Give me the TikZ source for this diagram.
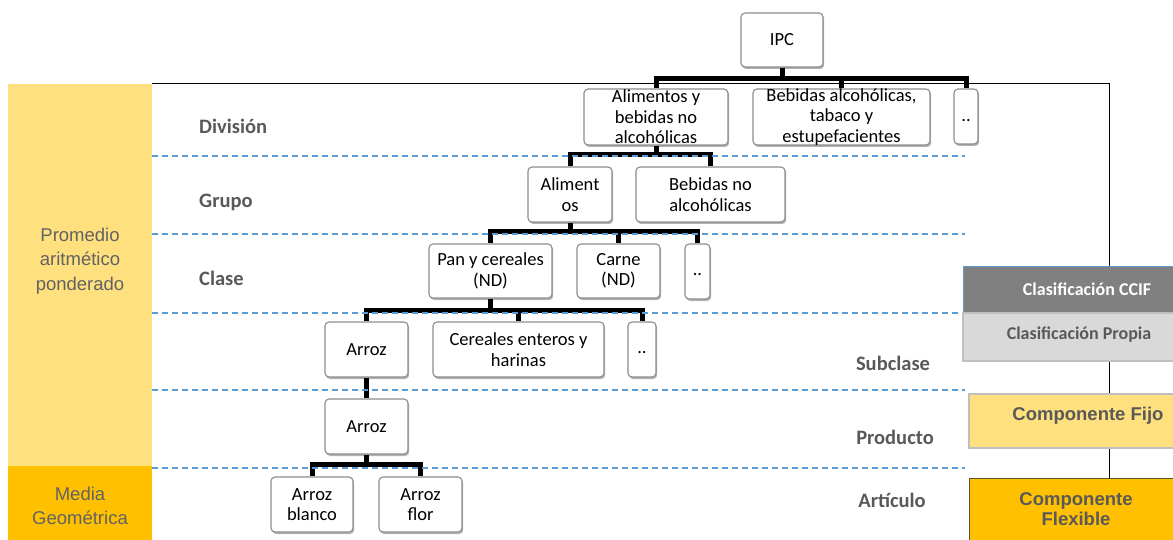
\documentclass[tikz,border=0pt]{standalone}
\usepackage{fontspec}
\setmainfont{Carlito}
\newfontfamily\arialf{Liberation Sans}
\usetikzlibrary{shadows}
\definecolor{ylight}{HTML}{FFE07F}
\definecolor{ydark}{HTML}{FFC000}
\definecolor{dashblue}{HTML}{5B9BD5}
\definecolor{boxgray}{HTML}{8C8C8C}
\definecolor{txtgray}{HTML}{595959}
\definecolor{colgray}{HTML}{626262}
\newcommand\bxfont{\fontsize{18.5}{20.5}\selectfont}
\newcommand\lvfont{\fontsize{20.5}{24}\selectfont\bfseries}
\tikzset{
  box/.style={draw=boxgray, line width=1.1pt, rounded corners=4pt, fill=white,
    inner sep=0pt, drop shadow={shadow xshift=1.2pt, shadow yshift=-2pt, fill=black, opacity=0.3}},
  txt/.style={font=\bxfont, align=center, inner sep=0pt},
  conn/.style={line width=5pt, line join=miter, draw=black},
  dline/.style={draw=dashblue, line width=1.2pt, dash pattern=on 6pt off 4pt},
  lvl/.style={font=\lvfont, text=txtgray, inner sep=0pt},
  coltxt/.style={font=\arialf\fontsize{18.5}{24.5}\selectfont, text=colgray, align=center, inner sep=0pt},
  rbtxt/.style={font=\fontsize{18}{22}\selectfont\bfseries, inner sep=0pt, align=center},
  rbtxtA/.style={font=\arialf\fontsize{18.5}{20.5}\selectfont\bfseries, text=txtgray, inner sep=0pt, align=center}
}
\begin{document}
\begin{tikzpicture}[x=1pt,y=-1pt]
\clip (0,0) rectangle (1173,540);
\fill[white] (0,0) rectangle (1173,540);
% left column
\fill[ylight] (8,84) rectangle (152,466);
\fill[ydark] (8,466) rectangle (152,545);
\node[coltxt] (prom) at (80,261) {Promedio\\aritmético\\ponderado};
\node[coltxt] (media) at (80,506) {Media\\Geométrica};
% frame
\draw[line width=1pt] (152,84) -- (1109,84) -- (1109,545);
% level labels
\node[lvl, anchor=west] (ldiv) at (199,126) {División};
\node[lvl, anchor=west] (lgru) at (199,202) {Grupo};
\node[lvl, anchor=west] (lcla) at (199,278) {Clase};
\node[lvl] (lsub) at (893,363) {Subclase};
\node[lvl] (lpro) at (895,437) {Producto};
\node[lvl] (lart) at (892,500) {Artículo};
% bar coordinates
\coordinate (c1) at (0,79);
\coordinate (c2) at (0,155);
\coordinate (c3) at (0,232);
\coordinate (c4) at (0,310);
\coordinate (c6) at (0,464);
% boxes
\node[box, minimum width=82pt, minimum height=54pt] (ipc) at (782,40) {};
\node[box, minimum width=144pt, minimum height=56pt] (ali) at (656,117) {};
\node[box, minimum width=177pt, minimum height=56pt] (beb) at (841.5,117) {};
\node[box, minimum width=24pt, minimum height=55pt] (dd1) at (966,116.5) {};
\node[box, minimum width=84pt, minimum height=55pt] (alm) at (570,194.5) {};
\node[box, minimum width=149pt, minimum height=55pt] (bna) at (710.5,194.5) {};
\node[box, minimum width=123pt, minimum height=54pt] (pan) at (490.5,271) {};
\node[box, minimum width=83pt, minimum height=54pt] (car) at (618.5,271) {};
\node[box, minimum width=25pt, minimum height=55pt] (dd2) at (697.5,271.5) {};
\node[box, minimum width=83pt, minimum height=55pt] (arz1) at (366.5,349.5) {};
\node[box, minimum width=171pt, minimum height=55pt] (cer) at (518.5,349.5) {};
\node[box, minimum width=28pt, minimum height=55pt] (dd3) at (642,349.5) {};
\node[box, minimum width=83pt, minimum height=55pt] (arz2) at (366.5,426.5) {};
\node[box, minimum width=82pt, minimum height=55pt] (ab) at (312,504.5) {};
\node[box, minimum width=83pt, minimum height=55pt] (af) at (420.5,504.5) {};
% connectors
\draw[conn] (ipc.south) -- (ipc.south |- c1);
\draw[conn] (ali.north) -- (ali.north |- c1) -| (dd1.north);
\draw[conn] (beb.north) -- (beb.north |- c1);
\draw[conn] (ali.south) -- (ali.south |- c2);
\draw[conn] (alm.north) -- (alm.north |- c2) -| (bna.north);
\draw[conn] (alm.south) -- (alm.south |- c3);
\draw[conn] (pan.north) -- (pan.north |- c3) -| (dd2.north);
\draw[conn] (car.north) -- (car.north |- c3);
\draw[conn] (pan.south) -- (pan.south |- c4);
\draw[conn] (arz1.north) -- (arz1.north |- c4) -| (dd3.north);
\draw[conn] (cer.north) -- (cer.north |- c4);
\draw[conn] (arz1.south) -- (arz2.north);
\draw[conn] (arz2.south) -- (arz2.south |- c6);
\draw[conn] (ab.north) -- (ab.north |- c6) -| (af.north);
% dashed separators
\foreach \yy in {156,234,313,390,468} \draw[dline] (152,\yy) -- (965,\yy);
% box texts
\node[txt] (ipc-t) at (ipc) {IPC};
\node[txt] (ali-t) at (ali) {Alimentos y\\bebidas no\\alcohólicas};
\node[txt] (beb-t) at (beb) {Bebidas alcohólicas,\\tabaco y\\estupefacientes};
\node[txt] (dd1-t) at (966,121) {..};
\node[txt] (alm-t) at (alm) {Aliment\\os};
\node[txt] (bna-t) at (bna) {Bebidas no\\alcohólicas};
\node[txt] (pan-t) at (pan) {Pan y cereales\\(ND)};
\node[txt] (car-t) at (car) {Carne\\(ND)};
\node[txt] (dd2-t) at (697.5,275) {..};
\node[txt] (arz1-t) at (arz1) {Arroz};
\node[txt] (cer-t) at (cer) {Cereales enteros y\\harinas};
\node[txt] (dd3-t) at (642,353) {..};
\node[txt] (arz2-t) at (arz2) {Arroz};
\node[txt] (ab-t) at (ab) {Arroz\\blanco};
\node[txt] (af-t) at (af) {Arroz\\flor};
% right legend boxes
\draw[draw=dashblue, line width=1pt, fill=black!50] (963,267) rectangle (1190,313);
\node[rbtxt, text=white] (ccif) at (1087,289) {Clasificación CCIF};
\draw[draw=black!25, line width=1.5pt, fill=black!15] (963,313) rectangle (1190,361);
\node[rbtxt, text=txtgray] (prop) at (1079,335) {Clasificación Propia};
\draw[draw=black!25, line width=2pt, fill=ylight] (969,394) rectangle (1205,448);
\node[rbtxtA] (fijo) at (1088,416) {Componente Fijo};
\draw[draw=black!50!olive, line width=1pt, fill=ydark] (969,478) rectangle (1190,560);
\node[rbtxtA] (flex) at (1076,509) {Componente\\Flexible};
\end{tikzpicture}
\end{document}
